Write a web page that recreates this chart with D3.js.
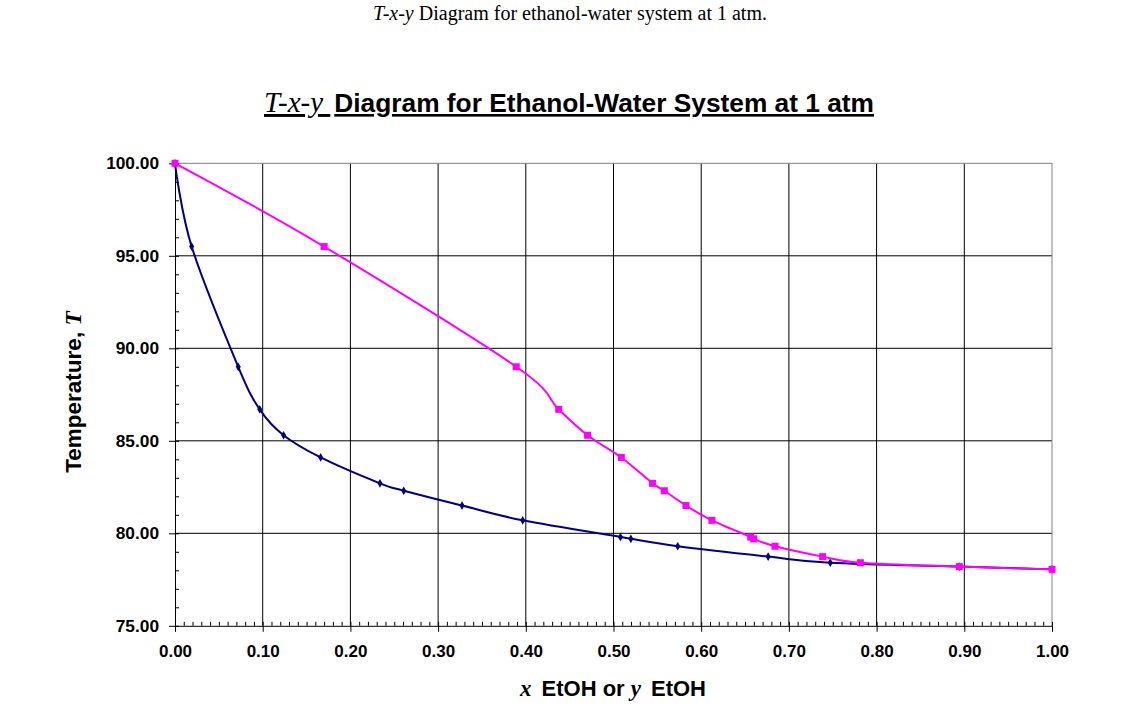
<!DOCTYPE html>
<html>
<head>
<meta charset="utf-8">
<script src="https://cdn.jsdelivr.net/npm/d3@7"></script>
<style>
  body { margin: 0; background: #fff; }
  svg { display: block; }
</style>
</head>
<body>
<svg id="chart"></svg>
<script>
// liquid line (bubble point): x EtOH vs T
const xLiquid = [0, 0.019, 0.0721, 0.0966, 0.1238, 0.1661, 0.2337, 0.2608, 0.3273, 0.3965, 0.5079, 0.5198, 0.5732, 0.6763, 0.7472, 0.8943, 1.0];
// vapour line (dew point): y EtOH vs T
const yVapour = [0, 0.17, 0.3891, 0.4375, 0.4704, 0.5089, 0.5445, 0.558, 0.5826, 0.6122, 0.6564, 0.6599, 0.6841, 0.7385, 0.7815, 0.8943, 1.0];
// temperatures shared by both series
const temps = [100, 95.5, 89.0, 86.7, 85.3, 84.1, 82.7, 82.3, 81.5, 80.7, 79.8, 79.7, 79.3, 78.74, 78.41, 78.2, 78.05];

const xTicks = [0, 0.1, 0.2, 0.3, 0.4, 0.5, 0.6, 0.7, 0.8, 0.9, 1.0];
const yTicks = [75, 80, 85, 90, 95, 100];

const W = 1134, H = 709;
const plot = { left: 175, top: 163.3, right: 1052, bottom: 625.8 };
const sans = "'Liberation Sans', Arial, sans-serif";
const serif = "'Liberation Serif', 'Times New Roman', serif";

const svg = d3.select('#chart')
  .attr('width', W)
  .attr('height', H)
  .attr('viewBox', [0, 0, W, H]);

const x = d3.scaleLinear().domain([0, 1]).range([plot.left, plot.right]);
const y = d3.scaleLinear().domain([75, 100]).range([plot.bottom, plot.top]);

// Caption above the chart
const cap = svg.append('text')
  .attr('x', 570).attr('y', 20)
  .attr('text-anchor', 'middle')
  .attr('font-family', serif)
  .attr('font-size', 20);
cap.append('tspan').attr('font-style', 'italic').text('T-x-y');
cap.append('tspan').text(' Diagram for ethanol-water system at 1 atm.');

// Chart title
const title = svg.append('text')
  .attr('x', 569).attr('y', 112)
  .attr('text-anchor', 'middle');
title.append('tspan')
  .attr('font-family', serif)
  .attr('font-style', 'italic')
  .attr('font-size', 29)
  .attr('text-decoration', 'underline')
  .text('T-x-y ');
title.append('tspan')
  .attr('font-family', sans)
  .attr('font-weight', 'bold')
  .attr('font-size', 26.3)
  .attr('dx', 4)
  .attr('text-decoration', 'underline')
  .text('Diagram for Ethanol-Water System at 1 atm');

// Grid lines
svg.append('g')
  .selectAll('line')
  .data(xTicks.slice(1, -1))
  .join('line')
  .attr('x1', d => x(d)).attr('x2', d => x(d))
  .attr('y1', plot.top).attr('y2', plot.bottom)
  .attr('stroke', '#000').attr('stroke-width', 1);

svg.append('g')
  .selectAll('line')
  .data(yTicks.slice(1, -1))
  .join('line')
  .attr('x1', plot.left).attr('x2', plot.right)
  .attr('y1', d => y(d)).attr('y2', d => y(d))
  .attr('stroke', '#000').attr('stroke-width', 1);

// Plot border (top/right grey)
svg.append('path')
  .attr('d', `M${plot.left},${plot.top}H${plot.right}V${plot.bottom}`)
  .attr('fill', 'none')
  .attr('stroke', '#808080')
  .attr('stroke-width', 1);

// Minor ticks, inside the plot
const xMinor = d3.axisBottom(x).ticks(100).tickSize(-4).tickFormat('');
svg.append('g')
  .attr('transform', `translate(0,${plot.bottom})`)
  .call(xMinor)
  .call(g => g.select('.domain').remove());

const yMinor = d3.axisLeft(y).ticks(25).tickSize(-4).tickFormat('');
svg.append('g')
  .attr('transform', `translate(${plot.left},0)`)
  .call(yMinor)
  .call(g => g.select('.domain').remove());

// Major axes
const xAxis = d3.axisBottom(x)
  .tickValues(xTicks)
  .tickSize(6)
  .tickSizeOuter(0)
  .tickPadding(13)
  .tickFormat(d3.format('.2f'));
svg.append('g')
  .attr('transform', `translate(0,${plot.bottom})`)
  .call(xAxis)
  .call(g => g.selectAll('text')
    .attr('font-family', sans)
    .attr('font-weight', 'bold')
    .attr('font-size', 17)
    .attr('fill', '#000'));

const yAxis = d3.axisLeft(y)
  .tickValues(yTicks)
  .tickSize(6)
  .tickSizeOuter(0)
  .tickPadding(10)
  .tickFormat(d3.format('.2f'));
svg.append('g')
  .attr('transform', `translate(${plot.left},0)`)
  .call(yAxis)
  .call(g => g.selectAll('text')
    .attr('font-family', sans)
    .attr('font-weight', 'bold')
    .attr('font-size', 17.3)
    .attr('fill', '#000'));

svg.selectAll('.tick line').attr('stroke', '#000');
svg.selectAll('.domain').attr('stroke', '#000');

// Axis titles
const xTitle = svg.append('text')
  .attr('x', 613).attr('y', 696)
  .attr('text-anchor', 'middle')
  .attr('font-family', sans)
  .attr('font-weight', 'bold')
  .attr('font-size', 22);
xTitle.append('tspan').attr('font-family', serif).attr('font-style', 'italic').attr('font-size', 23).text('x');
xTitle.append('tspan').attr('dx', 10).text('EtOH or ');
xTitle.append('tspan').attr('font-family', serif).attr('font-style', 'italic').attr('font-size', 23).text('y');
xTitle.append('tspan').attr('dx', 10).text('EtOH');

const yTitle = svg.append('text')
  .attr('transform', 'translate(81,392) rotate(-90)')
  .attr('text-anchor', 'middle')
  .attr('font-family', sans)
  .attr('font-weight', 'bold')
  .attr('font-size', 22.5);
yTitle.append('tspan').text('Temperature, ');
yTitle.append('tspan').attr('font-family', serif).attr('font-style', 'italic').attr('font-size', 23.5).text('T');

// Series
const liquid = xLiquid.map((v, i) => ({ x: v, t: temps[i] }));
const vapour = yVapour.map((v, i) => ({ x: v, t: temps[i] }));

const line = d3.line()
  .x(d => x(d.x))
  .y(d => y(d.t))
  .curve(d3.curveCardinal.tension(0));

svg.append('path')
  .datum(liquid)
  .attr('d', line)
  .attr('fill', 'none')
  .attr('stroke', '#000080')
  .attr('stroke-width', 2);

svg.append('g')
  .selectAll('path')
  .data(liquid)
  .join('path')
  .attr('d', d3.symbol(d3.symbolDiamond, 22))
  .attr('transform', d => `translate(${x(d.x)},${y(d.t)})`)
  .attr('fill', '#000080');

svg.append('path')
  .datum(vapour)
  .attr('d', line)
  .attr('fill', 'none')
  .attr('stroke', '#ff00ff')
  .attr('stroke-width', 2);

svg.append('g')
  .selectAll('rect')
  .data(vapour)
  .join('rect')
  .attr('x', d => x(d.x) - 3.5)
  .attr('y', d => y(d.t) - 3.5)
  .attr('width', 7)
  .attr('height', 7)
  .attr('fill', '#ff00ff');
</script>
</body>
</html>
